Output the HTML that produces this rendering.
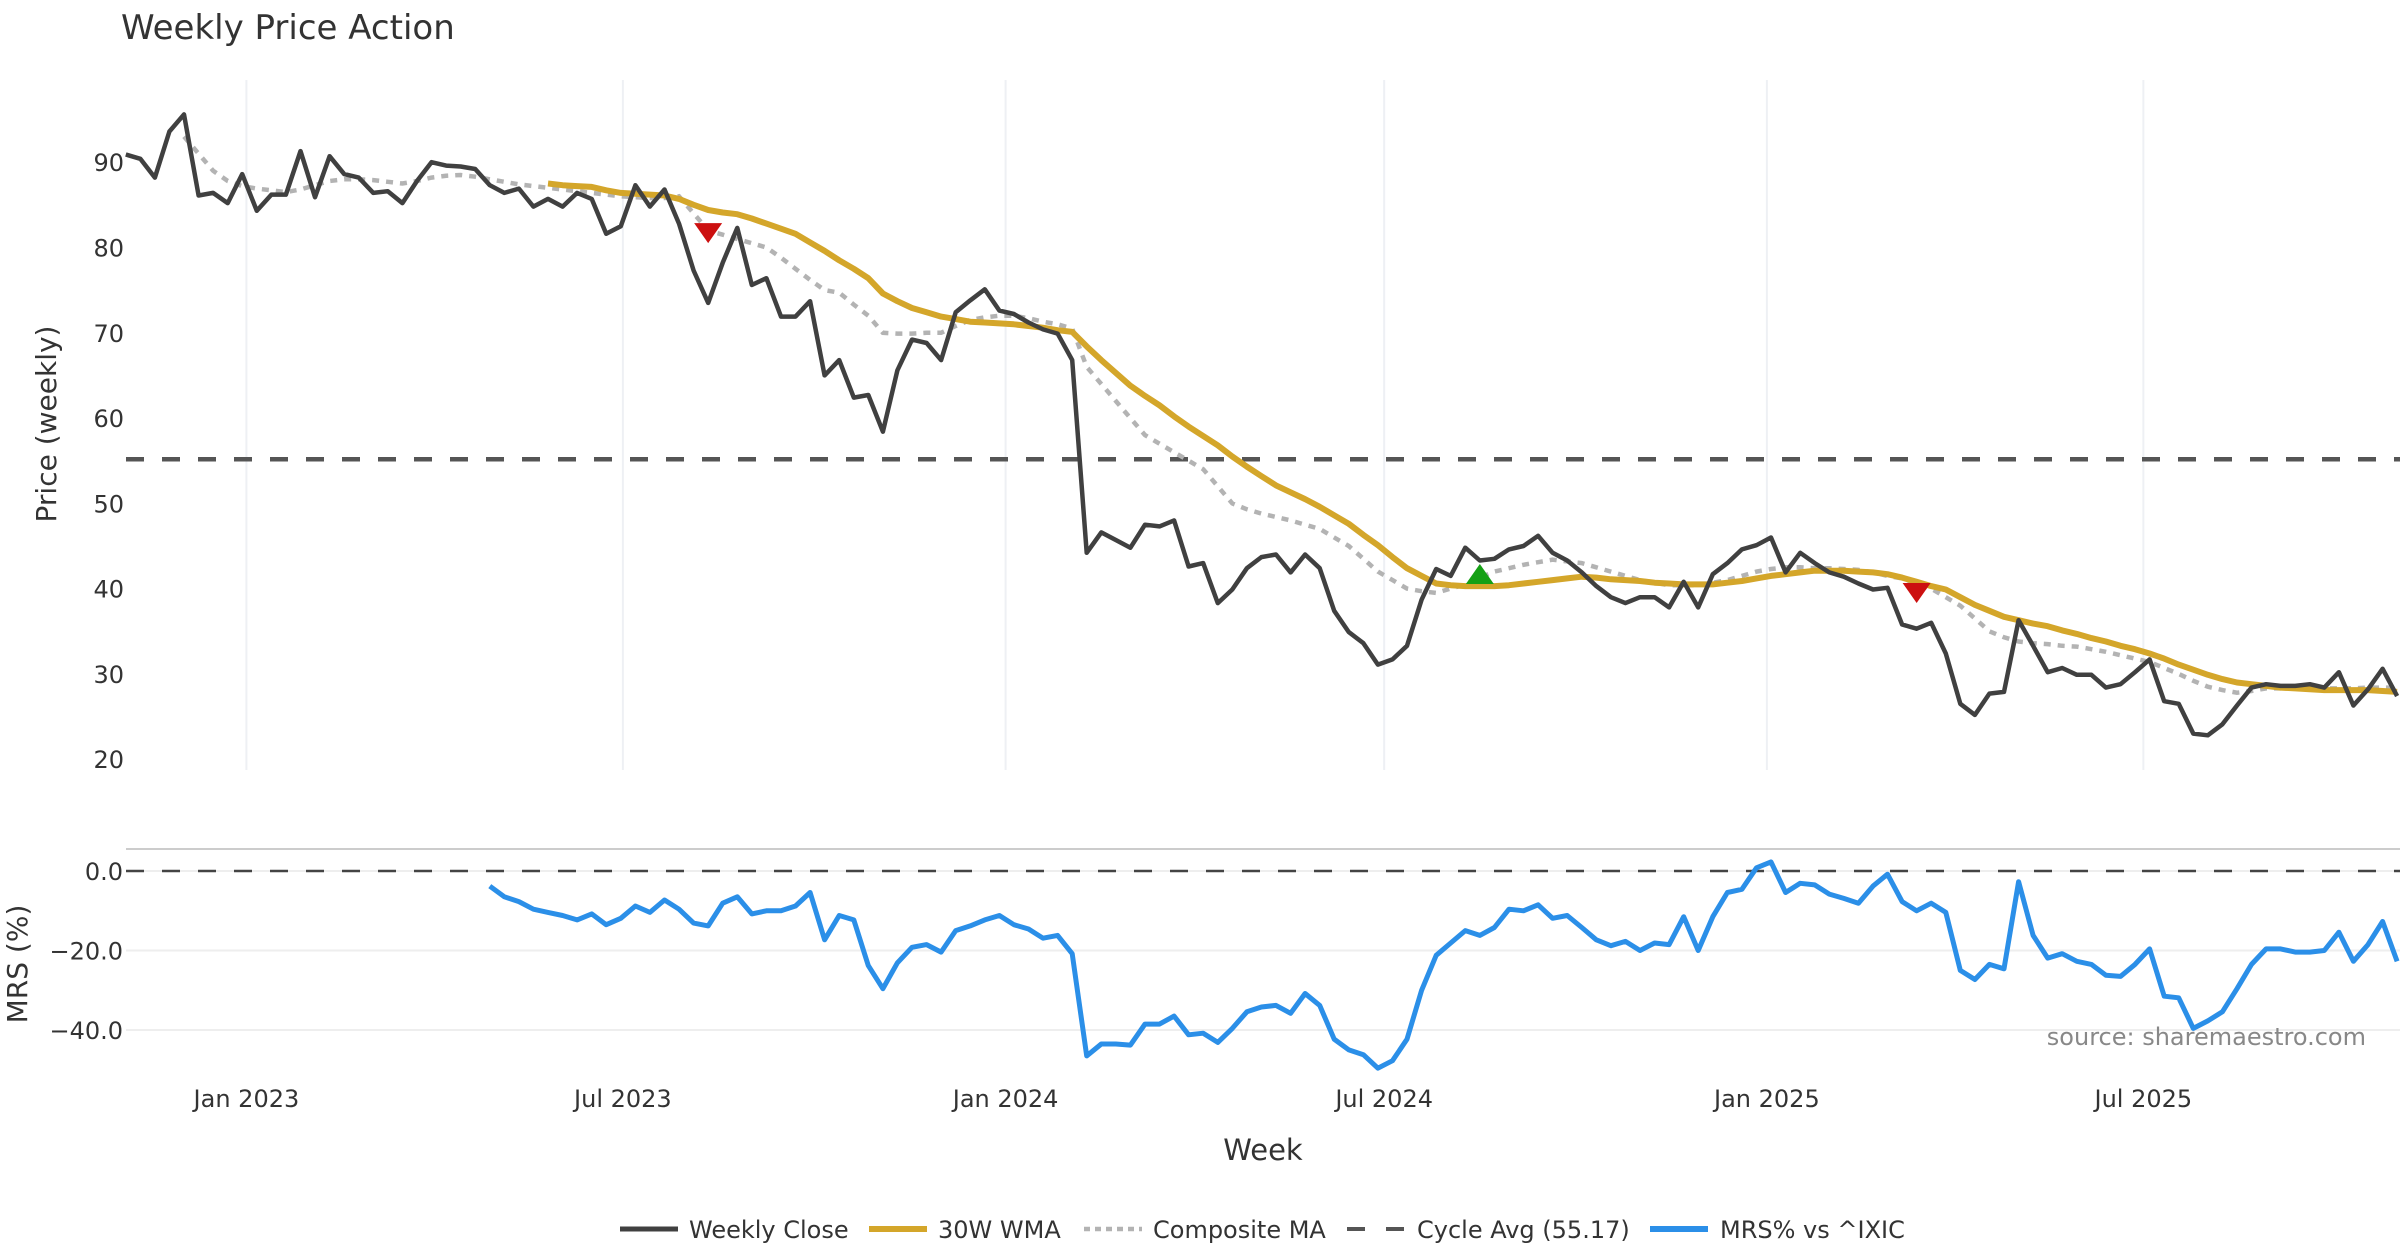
<!DOCTYPE html>
<html><head><meta charset="utf-8"><style>
html,body{margin:0;padding:0;background:#fff;}
svg{display:block;font-family:"DejaVu Sans","Liberation Sans",sans-serif;}
</style></head><body>
<svg id="chart" width="2400" height="1260" viewBox="0 0 2400 1260" xmlns="http://www.w3.org/2000/svg">
<text x="121" y="39" font-size="34" fill="#333">Weekly Price Action</text>
<g id="grid"></g>
<g id="ticks"></g>
<g id="series"></g>
<text transform="translate(56,424) rotate(-90)" text-anchor="middle" font-size="28" fill="#333">Price (weekly)</text>
<text transform="translate(27,964) rotate(-90)" text-anchor="middle" font-size="28" fill="#333">MRS (%)</text>
<text x="1263" y="1160" text-anchor="middle" font-size="29" fill="#333">Week</text>
<text x="2366" y="1045" text-anchor="end" font-size="24" fill="#888">source: sharemaestro.com</text>
<g font-size="24" fill="#333">
<g><line x1="620" y1="1229" x2="678" y2="1229" stroke="#404040" stroke-width="5"/><text x="689" y="1238">Weekly Close</text></g>
<g><line x1="869" y1="1229" x2="927" y2="1229" stroke="#d4a62a" stroke-width="6"/><text x="938" y="1238">30W WMA</text></g>
<g><line x1="1084" y1="1229" x2="1142" y2="1229" stroke="#b3b3b3" stroke-width="4.5" stroke-dasharray="6,5"/><text x="1153" y="1238">Composite MA</text></g>
<g><line x1="1347" y1="1229" x2="1404" y2="1229" stroke="#555" stroke-width="4" stroke-dasharray="18,21"/><text x="1417" y="1238">Cycle Avg (55.17)</text></g>
<g><line x1="1650" y1="1229" x2="1708" y2="1229" stroke="#2b8fe8" stroke-width="6"/><text x="1720" y="1238">MRS% vs ^IXIC</text></g>
</g>
</svg>
<script>
const startDate = "2022-11-04";
const weeklyClose = [90.9,90.4,88.2,93.6,95.6,86.1,86.4,85.2,88.6,84.3,86.2,86.2,91.3,85.9,90.7,88.6,88.2,86.4,86.6,85.2,87.8,90,89.6,89.5,89.2,87.3,86.4,86.9,84.8,85.7,84.8,86.4,85.7,81.6,82.5,87.3,84.8,86.8,82.8,77.3,73.5,78.2,82.3,75.6,76.4,71.9,71.9,73.7,65.0,66.8,62.4,62.7,58.4,65.6,69.2,68.8,66.8,72.4,73.8,75.1,72.6,72.2,71.2,70.4,69.9,66.8,44.2,46.6,45.7,44.8,47.5,47.3,48.0,42.6,43.0,38.3,39.9,42.4,43.7,44.0,41.9,44.0,42.4,37.4,34.9,33.6,31.1,31.7,33.3,38.7,42.3,41.5,44.8,43.3,43.5,44.6,45.0,46.2,44.2,43.3,41.9,40.3,39.0,38.3,39.0,39.0,37.8,40.8,37.8,41.7,43.0,44.6,45.1,46.0,41.9,44.2,43.0,41.9,41.4,40.6,39.9,40.1,35.8,35.3,36.0,32.4,26.5,25.2,27.7,27.9,36.3,33.3,30.2,30.7,29.9,29.9,28.4,28.8,30.2,31.7,26.8,26.5,23.0,22.8,24.1,26.3,28.4,28.8,28.6,28.6,28.8,28.4,30.2,26.3,28.2,30.6,27.4];
const wmaStart = 29;
const wma30 = [87.5,87.3,87.2,87.1,86.7,86.4,86.3,86.2,86.1,85.7,85.0,84.4,84.1,83.9,83.4,82.8,82.2,81.6,80.6,79.6,78.5,77.5,76.4,74.6,73.7,72.9,72.4,71.9,71.6,71.3,71.2,71.1,71.0,70.8,70.6,70.3,70.1,68.4,66.8,65.3,63.8,62.6,61.5,60.2,59.0,57.9,56.8,55.5,54.3,53.2,52.1,51.3,50.5,49.6,48.6,47.6,46.3,45.1,43.7,42.4,41.5,40.6,40.4,40.3,40.3,40.3,40.4,40.6,40.8,41.0,41.2,41.4,41.3,41.1,41.0,40.9,40.7,40.6,40.5,40.5,40.5,40.7,40.9,41.2,41.5,41.7,41.9,42.1,42.1,42.1,42.0,41.9,41.7,41.3,40.8,40.3,39.9,39.0,38.1,37.4,36.7,36.3,35.9,35.6,35.1,34.7,34.2,33.8,33.3,32.9,32.4,31.8,31.1,30.5,29.9,29.4,29.0,28.8,28.6,28.4,28.3,28.2,28.1,28.1,28.1,28.1,28.0,27.9];
const compStart = 4;
const compositeMA = [93,91,89,87.8,87.2,86.9,86.7,86.5,86.8,87.3,87.8,88,88,87.9,87.7,87.5,87.8,88.2,88.4,88.5,88.3,88,87.7,87.4,87.2,87,86.8,86.6,86.4,86.2,86,85.9,85.8,85.8,86,84,82,81.5,81,80.5,80,78.8,77.5,76.2,75,74.7,73.3,72,70,69.9,69.9,70,70,70.8,71.5,71.8,72,72,71.7,71.3,71,70.5,66,64,62,60,58,57,56,55,54,52,50,49.3,48.8,48.4,48,47.5,47,46,45,43.5,42,41,40,39.7,39.5,40,40.5,41.3,42,42.4,42.8,43.1,43.4,43.2,43,42.5,42,41.5,41,40.7,40.4,40.4,40.4,40.7,41,41.5,42,42.3,42.5,42.5,42.4,42.4,42.3,42.2,41.9,41.5,41.2,40.6,40,39,38,36.5,35,34.3,33.8,33.6,33.5,33.3,33.2,32.9,32.6,32.2,31.8,31.4,30.7,30,29.2,28.5,28.1,27.8,28,28.3,28.3,28.4,28.4,28.3,28.3,28.3,28.4,28.4,28.4];
const cycleAvg = 55.17;
const mrsStart = 25;
const mrsPct = [-3.8,-6.5,-7.7,-9.6,-10.4,-11.2,-12.3,-10.8,-13.5,-11.9,-8.8,-10.4,-7.3,-9.6,-13.1,-13.8,-8.1,-6.5,-10.8,-10,-10,-8.8,-5.4,-17.3,-11.2,-12.3,-23.8,-29.6,-23.1,-19.2,-18.5,-20.4,-15,-13.8,-12.3,-11.2,-13.5,-14.6,-16.9,-16.2,-20.8,-46.5,-43.5,-43.5,-43.8,-38.5,-38.5,-36.5,-41.2,-40.8,-43.1,-39.6,-35.4,-34.2,-33.8,-35.8,-30.8,-33.8,-42.3,-45,-46.2,-49.6,-47.7,-42.3,-30,-21.2,-18.1,-15,-16.2,-14.2,-9.6,-10,-8.5,-11.9,-11.2,-14.2,-17.3,-18.8,-17.7,-20,-18.1,-18.5,-11.5,-20,-11.5,-5.4,-4.6,0.8,2.3,-5.4,-3.1,-3.5,-5.8,-6.9,-8.1,-3.8,-0.8,-7.7,-10,-8.1,-10.4,-25,-27.3,-23.5,-24.6,-2.7,-16.2,-21.9,-20.8,-22.7,-23.5,-26.2,-26.5,-23.5,-19.6,-31.5,-31.9,-39.6,-37.7,-35.4,-29.6,-23.5,-19.6,-19.6,-20.4,-20.4,-20,-15.4,-22.7,-18.5,-12.7,-22.7];
const sellIdx = [40,123];
const sellVal = [81.8,39.6];
const buyIdx = [93];
const buyVal = [41.6];
const priceTicks = [20,30,40,50,60,70,80,90];
const mrsTicks = [0,-20,-40];
const mrsTickLabels = ["0.0","\u221220.0","\u221240.0"];
const xTickDates = ["2023-01-01","2023-07-01","2024-01-01","2024-07-01","2025-01-01","2025-07-01"];
const xTickLabels = ["Jan 2023","Jul 2023","Jan 2024","Jul 2024","Jan 2025","Jul 2025"];

const NS="http://www.w3.org/2000/svg";
const DAY=86400000, T0=Date.UTC(2023,0,1);
function dayOf(s){const p=s.split('-');return (Date.UTC(+p[0],+p[1]-1,+p[2])-T0)/DAY;}
function xDay(d){return 246.4 + d*(1005.6-246.4)/365;}
const d0=dayOf(startDate);
function xIdx(i){return xDay(d0+7*i);}
function yP(v){return 162.2 + (90-v)*8.529;}
function yM(v){return 871 + (0-v)*3.976;}
function mk(tag,attrs,parent){const e=document.createElementNS(NS,tag);for(const k in attrs)e.setAttribute(k,attrs[k]);parent.appendChild(e);return e;}
const grid=document.getElementById('grid'), ticks=document.getElementById('ticks'), ser=document.getElementById('series');
xTickDates.forEach((d,i)=>{
  const x=xDay(dayOf(d));
  let l=mk('line',{x1:x,x2:x,y1:80,y2:770,stroke:'#eef0f4','stroke-width':2},grid);
  
  
  let t=mk('text',{x:x,y:1107,'text-anchor':'middle','font-size':24,fill:'#333'},ticks);
  t.textContent=xTickLabels[i];
  
  
});
priceTicks.forEach(v=>{
  let t=mk('text',{x:124,y:yP(v)+9,'text-anchor':'end','font-size':24,fill:'#333'},ticks);
  t.textContent=v;
  
  
});
let b=mk('line',{x1:126,x2:2400,y1:849,y2:849,stroke:'#ccc','stroke-width':2},grid);


mrsTicks.forEach((v,i)=>{
  let l=mk('line',{x1:126,x2:2400,y1:yM(v),y2:yM(v),stroke:'#eeeeee','stroke-width':2},grid);
  
  
  let t=mk('text',{x:123,y:yM(v)+9,'text-anchor':'end','font-size':24,fill:'#333'},ticks);
  t.textContent=mrsTickLabels[i];
  
  
});
let z=mk('line',{x1:126,x2:2400,y1:yM(0),y2:yM(0),stroke:'#444','stroke-width':2.5,'stroke-dasharray':'18,18'},ser);


let c=mk('line',{x1:126,x2:2400,y1:yP(cycleAvg),y2:yP(cycleAvg),stroke:'#555','stroke-width':4.5,'stroke-dasharray':'18,18'},ser);


function pathOf(arr,start,yf){return arr.map((v,k)=>(k?'L':'M')+xIdx(start+k).toFixed(1)+','+yf(v).toFixed(1)).join('');}
let p1=mk('path',{d:pathOf(compositeMA,compStart,yP),fill:'none',stroke:'#b3b3b3','stroke-width':4.5,'stroke-dasharray':'7,7'},ser);


let p2=mk('path',{d:pathOf(wma30,wmaStart,yP),fill:'none',stroke:'#d4a62a','stroke-width':6,'stroke-linejoin':'round'},ser);


let p3=mk('path',{d:pathOf(weeklyClose,0,yP),fill:'none',stroke:'#404040','stroke-width':4.5,'stroke-linejoin':'round'},ser);


let p4=mk('path',{d:pathOf(mrsPct,mrsStart,yM),fill:'none',stroke:'#2b8fe8','stroke-width':5,'stroke-linejoin':'round'},ser);


sellIdx.forEach((i,k)=>{
  const x=xIdx(i), y=yP(sellVal[k]);
  let t=mk('path',{d:`M${x-14},${y-9}L${x+14},${y-9}L${x},${y+11}Z`,fill:'#cc1010'},ser);
  
  
});
buyIdx.forEach((i,k)=>{
  const x=xIdx(i), y=yP(buyVal[k]);
  let t=mk('path',{d:`M${x-14},${y+9}L${x+14},${y+9}L${x},${y-11}Z`,fill:'#15a015'},ser);
  
  
});
</script>
</body></html>
